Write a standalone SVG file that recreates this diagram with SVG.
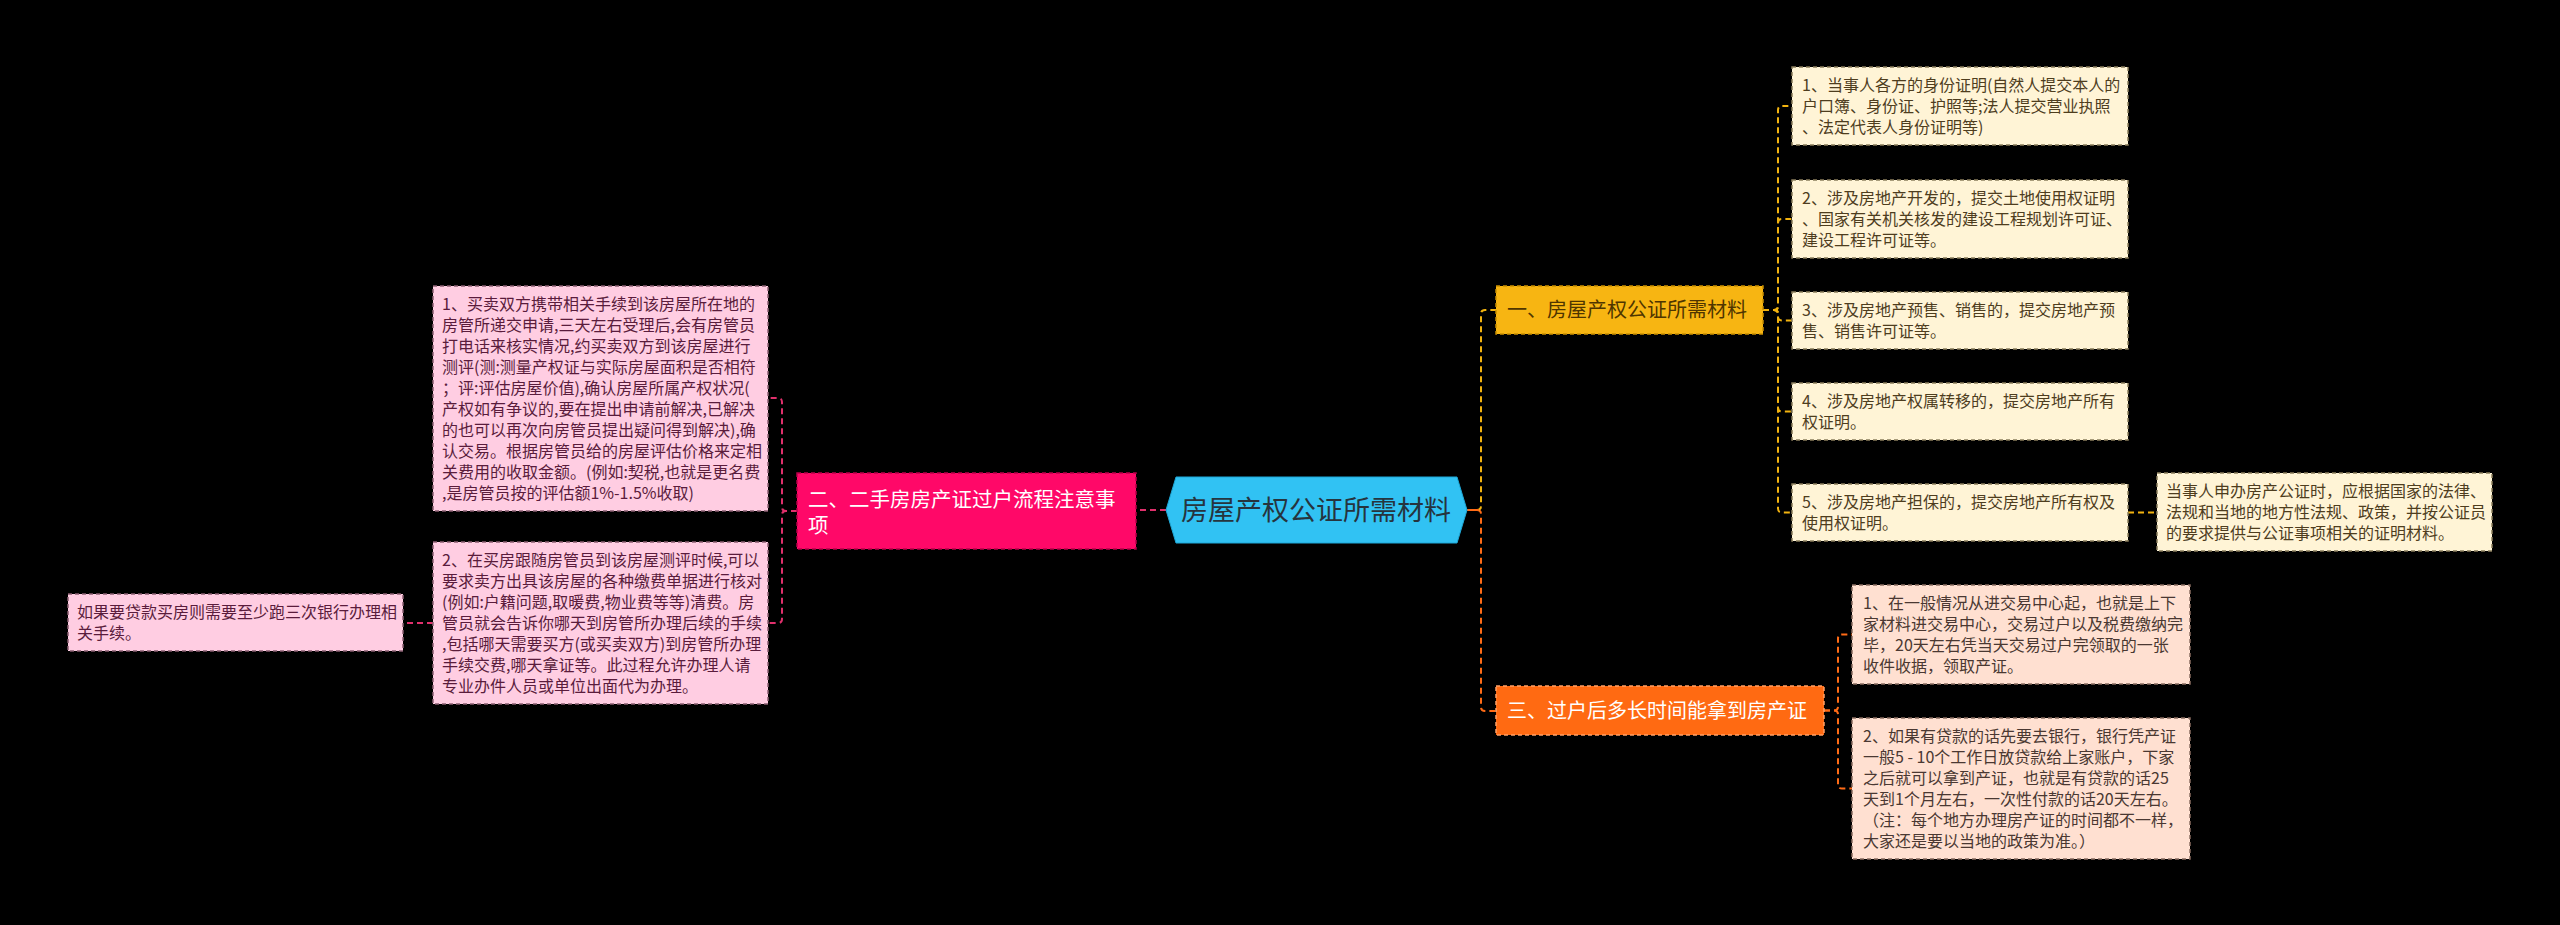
<svg xmlns="http://www.w3.org/2000/svg" width="2560" height="925" viewBox="0 0 2560 925">
<style>
text{font-family:"Noto Sans CJK SC","Microsoft YaHei",sans-serif;}
.bg{fill:#000000;}
.y1{fill:#fff4d6;stroke:#8a7d5c;stroke-width:1.5;stroke-dasharray:4 3;}
.o1{fill:#ffe0d1;stroke:#8a6d62;stroke-width:1.5;stroke-dasharray:4 3;}
.p1{fill:#ffcde2;stroke:#8a5f72;stroke-width:1.5;stroke-dasharray:4 3;}
.ty{font-size:16px;fill:#4e3d1e;}
.to{font-size:16px;fill:#4a3832;}
.tp{font-size:16px;fill:#5a1c3c;}
.cy{fill:none;stroke:#f2b310;stroke-width:2;stroke-dasharray:6 4;}
.co{fill:none;stroke:#ff6b16;stroke-width:2;stroke-dasharray:6 4;}
.cp{fill:none;stroke:#e0306c;stroke-width:2;stroke-dasharray:6 4;}
</style>
<rect class="bg" x="0" y="0" width="2560" height="925"/>
<g id="connectors">
  <path class="cp" d="M1166 510 H1136"/>
  <path class="cp" d="M797 511 H786 Q782 511 782 507 V402 Q782 398 778 398 H768"/>
  <path class="cp" d="M797 511 H786 Q782 511 782 515 V619 Q782 623 778 623 H768"/>
  <path class="cp" d="M433 623 H403"/>
  <path class="co" d="M1467 510 H1477 Q1481 510 1481 514 V707 Q1481 711 1485 711 H1496"/>
  <path class="cy" d="M1467 510 H1477 Q1481 510 1481 506 V314 Q1481 310 1485 310 H1496"/>
  <path class="co" d="M1467 510 H1479" style="stroke-dasharray:none"/>
  <path class="cy" d="M1763 310 H1774 Q1778 310 1778 306 V110 Q1778 106 1782 106 H1792"/>
  <path class="cy" d="M1763 310 H1774 Q1778 310 1778 306 V223 Q1778 219 1782 219 H1792"/>
  <path class="cy" d="M1763 310 H1774 Q1778 310 1778 314 V316.5 Q1778 320.5 1782 320.5 H1792"/>
  <path class="cy" d="M1763 310 H1774 Q1778 310 1778 314 V407.5 Q1778 411.5 1782 411.5 H1792"/>
  <path class="cy" d="M1763 310 H1774 Q1778 310 1778 314 V508.5 Q1778 512.5 1782 512.5 H1792"/>
  <path class="cy" d="M2128 512.5 H2157"/>
  <path class="co" d="M1824 710.5 H1834 Q1838 710.5 1838 706.5 V638.5 Q1838 634.5 1842 634.5 H1852"/>
  <path class="co" d="M1824 710.5 H1834 Q1838 710.5 1838 714.5 V784.5 Q1838 788.5 1842 788.5 H1852"/>
</g>
<g id="center">
  <polygon points="1166,510 1176,477 1457,477 1467,510 1457,543 1176,543" fill="#31c2f3" stroke="#1fa8d8" stroke-width="1"/>
  <text x="1316" y="520" font-size="27" fill="#26343e" text-anchor="middle">房屋产权公证所需材料</text>
</g>
<g id="n1">
  <rect x="1496" y="286" width="267" height="48" fill="#f7b512" stroke="#c98f00" stroke-width="1.5" style="stroke-dasharray:4 3"/>
  <text x="1507" y="317" font-size="20" fill="#4f3500">一、房屋产权公证所需材料</text>
</g>
<g id="n1c1">
  <rect class="y1" x="1792" y="67" width="336" height="78"/>
  <text class="ty" x="1802" y="91"><tspan x="1802">1、当事人各方的身份证明(自然人提交本人的</tspan><tspan x="1802" dy="21">户口簿、身份证、护照等;法人提交营业执照</tspan><tspan x="1802" dy="21">、法定代表人身份证明等)</tspan></text>
</g>
<g id="n1c2">
  <rect class="y1" x="1792" y="180" width="336" height="78"/>
  <text class="ty" x="1802" y="204"><tspan x="1802">2、涉及房地产开发的，提交土地使用权证明</tspan><tspan x="1802" dy="21">、国家有关机关核发的建设工程规划许可证、</tspan><tspan x="1802" dy="21">建设工程许可证等。</tspan></text>
</g>
<g id="n1c3">
  <rect class="y1" x="1792" y="292" width="336" height="57"/>
  <text class="ty" x="1802" y="316"><tspan x="1802">3、涉及房地产预售、销售的，提交房地产预</tspan><tspan x="1802" dy="21">售、销售许可证等。</tspan></text>
</g>
<g id="n1c4">
  <rect class="y1" x="1792" y="383" width="336" height="57"/>
  <text class="ty" x="1802" y="407"><tspan x="1802">4、涉及房地产权属转移的，提交房地产所有</tspan><tspan x="1802" dy="21">权证明。</tspan></text>
</g>
<g id="n1c5">
  <rect class="y1" x="1792" y="484" width="336" height="57"/>
  <text class="ty" x="1802" y="508"><tspan x="1802">5、涉及房地产担保的，提交房地产所有权及</tspan><tspan x="1802" dy="21">使用权证明。</tspan></text>
</g>
<g id="n1c5a">
  <rect class="y1" x="2157" y="473" width="335" height="78"/>
  <text class="ty" x="2166" y="497"><tspan x="2166">当事人申办房产公证时，应根据国家的法律、</tspan><tspan x="2166" dy="21">法规和当地的地方性法规、政策，并按公证员</tspan><tspan x="2166" dy="21">的要求提供与公证事项相关的证明材料。</tspan></text>
</g>
<g id="n3">
  <rect x="1496" y="686" width="328" height="49" fill="#ff6a12" stroke="#ffa066" stroke-width="1.5" style="stroke-dasharray:4 3"/>
  <text x="1507" y="718" font-size="20" fill="#ffffff">三、过户后多长时间能拿到房产证</text>
</g>
<g id="n3c1">
  <rect class="o1" x="1852" y="585" width="338" height="99"/>
  <text class="to" x="1863" y="609"><tspan x="1863">1、在一般情况从进交易中心起，也就是上下</tspan><tspan x="1863" dy="21">家材料进交易中心，交易过户以及税费缴纳完</tspan><tspan x="1863" dy="21">毕，20天左右凭当天交易过户完领取的一张</tspan><tspan x="1863" dy="21">收件收据，领取产证。</tspan></text>
</g>
<g id="n3c2">
  <rect class="o1" x="1852" y="718" width="338" height="141"/>
  <text class="to" x="1863" y="742"><tspan x="1863">2、如果有贷款的话先要去银行，银行凭产证</tspan><tspan x="1863" dy="21">一般5 - 10个工作日放贷款给上家账户，下家</tspan><tspan x="1863" dy="21">之后就可以拿到产证，也就是有贷款的话25</tspan><tspan x="1863" dy="21">天到1个月左右，一次性付款的话20天左右。</tspan><tspan x="1863" dy="21">（注：每个地方办理房产证的时间都不一样，</tspan><tspan x="1863" dy="21">大家还是要以当地的政策为准。）</tspan></text>
</g>
<g id="n2">
  <rect x="797" y="473" width="339" height="76" fill="#ff0868" stroke="#b8004a" stroke-width="1.5" style="stroke-dasharray:4 3"/>
  <text x="808" y="507" font-size="20.5" fill="#ffffff"><tspan x="808">二、二手房房产证过户流程注意事</tspan><tspan x="808" dy="26">项</tspan></text>
</g>
<g id="n2c1">
  <rect class="p1" x="433" y="286" width="335" height="225"/>
  <text class="tp" x="442" y="310"><tspan x="442">1、买卖双方携带相关手续到该房屋所在地的</tspan><tspan x="442" dy="21">房管所递交申请,三天左右受理后,会有房管员</tspan><tspan x="442" dy="21">打电话来核实情况,约买卖双方到该房屋进行</tspan><tspan x="442" dy="21">测评(测:测量产权证与实际房屋面积是否相符</tspan><tspan x="442" dy="21">；评:评估房屋价值),确认房屋所属产权状况(</tspan><tspan x="442" dy="21">产权如有争议的,要在提出申请前解决,已解决</tspan><tspan x="442" dy="21">的也可以再次向房管员提出疑问得到解决),确</tspan><tspan x="442" dy="21">认交易。根据房管员给的房屋评估价格来定相</tspan><tspan x="442" dy="21">关费用的收取金额。(例如:契税,也就是更名费</tspan><tspan x="442" dy="21">,是房管员按的评估额1%-1.5%收取)</tspan></text>
</g>
<g id="n2c2">
  <rect class="p1" x="433" y="542" width="335" height="162"/>
  <text class="tp" x="442" y="566"><tspan x="442">2、在买房跟随房管员到该房屋测评时候,可以</tspan><tspan x="442" dy="21">要求卖方出具该房屋的各种缴费单据进行核对</tspan><tspan x="442" dy="21">(例如:户籍问题,取暖费,物业费等等)清费。房</tspan><tspan x="442" dy="21">管员就会告诉你哪天到房管所办理后续的手续</tspan><tspan x="442" dy="21">,包括哪天需要买方(或买卖双方)到房管所办理</tspan><tspan x="442" dy="21">手续交费,哪天拿证等。此过程允许办理人请</tspan><tspan x="442" dy="21">专业办件人员或单位出面代为办理。</tspan></text>
</g>
<g id="n2c2a">
  <rect class="p1" x="68" y="594" width="335" height="57"/>
  <text class="tp" x="77" y="618"><tspan x="77">如果要贷款买房则需要至少跑三次银行办理相</tspan><tspan x="77" dy="21">关手续。</tspan></text>
</g>
</svg>
